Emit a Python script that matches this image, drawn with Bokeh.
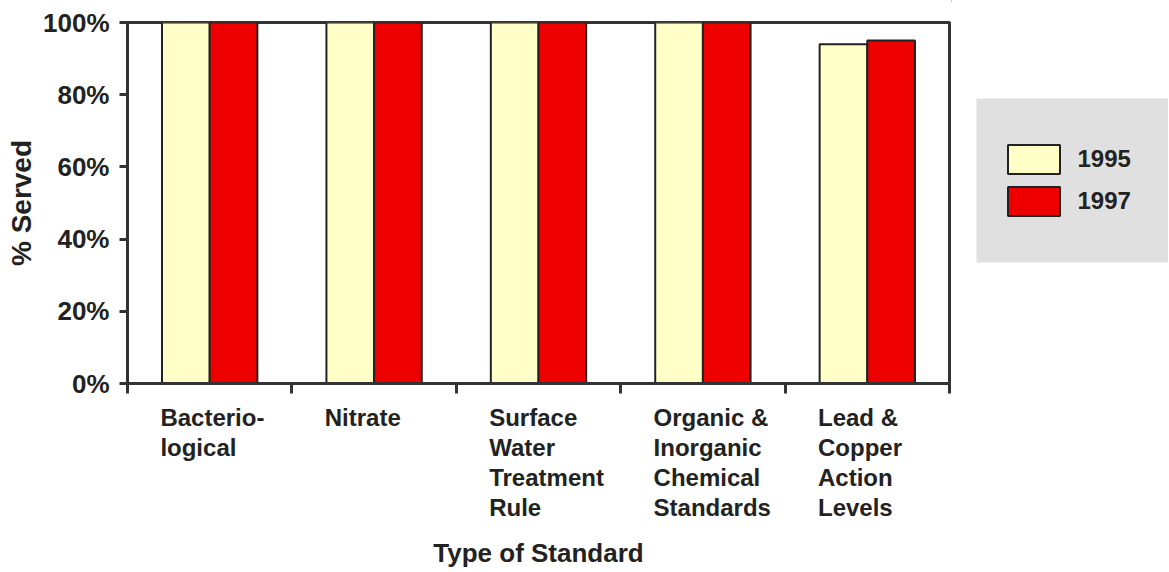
import numpy as np
from bokeh.plotting import figure
from bokeh.models import (ColumnDataSource, Range1d, FixedTicker, PrintfTickFormatter,
                          Legend, LegendItem)
from bokeh.layouts import row, column
from bokeh.core.properties import value
from bokeh.transform import dodge
from bokeh.embed import file_html
from bokeh.resources import INLINE

categories = ["Bacterio-\nlogical", "Nitrate", "Surface\nWater\nTreatment\nRule",
              "Organic &\nInorganic\nChemical\nStandards", "Lead &\nCopper\nAction\nLevels"]
served_1995 = [100, 100, 100, 100, 94]
served_1997 = [100, 100, 100, 100, 95]
years = ["1995", "1997"]
y_ticks = [0, 20, 40, 60, 80, 100]
x_title = "Type of Standard"
y_title = "% Served"

FONT = "Liberation Sans"
TXT = "#222222"
LINE = "#333333"
YELLOW = "#ffffc8"
RED = "#ee0000"
OUTLINE = "#222222"

idx = np.arange(len(categories))
src = ColumnDataSource(dict(x=idx + 0.5, y95=served_1995, y97=served_1997))

# ---------------- main chart ----------------
P_W, P_H = 951, 399
p = figure(width=P_W, height=P_H, output_backend="svg", toolbar_location=None,
           x_range=Range1d(0, len(categories)), y_range=Range1d(0, 100),
           min_border_left=127, min_border_right=2, min_border_top=22,
           min_border_bottom=16)
p.grid.visible = False
p.outline_line_color = LINE
p.outline_line_width = 3
p.background_fill_color = "white"
p.border_fill_color = "white"

p.vbar(x=dodge("x", -0.145), top="y95", width=0.29, source=src,
       fill_color=YELLOW, line_color=OUTLINE, line_width=2)
p.vbar(x=dodge("x", 0.145), top="y97", width=0.29, source=src,
       fill_color=RED, line_color=OUTLINE, line_width=2)

ya = p.yaxis[0]
ya.ticker = FixedTicker(ticks=y_ticks)
ya.formatter = PrintfTickFormatter(format="%d%%")
ya.axis_line_color = LINE
ya.axis_line_width = 3
ya.major_tick_line_color = LINE
ya.major_tick_line_width = 3
ya.major_tick_out = 8
ya.major_tick_in = 0
ya.minor_tick_line_color = None
ya.major_label_text_font = FONT
ya.major_label_text_font_style = "bold"
ya.major_label_text_font_size = "26px"
ya.major_label_text_color = TXT
ya.major_label_standoff = 10
ya.axis_label = y_title
ya.axis_label_text_font = FONT
ya.axis_label_text_font_style = "bold"
ya.axis_label_text_font_size = "28px"
ya.axis_label_text_color = TXT
ya.axis_label_standoff = 3

xa = p.xaxis[0]
xa.ticker = FixedTicker(ticks=[], minor_ticks=[float(i) for i in range(len(categories) + 1)])
xa.major_tick_out = 0
xa.major_tick_in = 0
xa.major_label_standoff = 0
xa.minor_tick_out = 10
xa.minor_tick_in = 0
xa.minor_tick_line_color = LINE
xa.minor_tick_line_width = 3
xa.axis_line_color = LINE
xa.axis_line_width = 3

# ---------------- category labels + x title (below) ----------------
Q_H = 172
q = figure(width=P_W, height=Q_H, output_backend="svg", toolbar_location=None,
           x_range=p.x_range, y_range=Range1d(Q_H, 0),
           min_border=0, min_border_left=127, min_border_right=2)
q.axis.visible = False
q.grid.visible = False
q.outline_line_color = None
q.background_fill_color = "white"
q.border_fill_color = "white"

lab_src = ColumnDataSource(dict(x=idx + 0.2, y=[4] * len(categories), text=categories))
q.text(x="x", y="y", text="text", source=lab_src, text_align="left",
       text_baseline="top", text_font=value(FONT), text_font_style="bold",
       text_font_size="24px", text_color=TXT, text_line_height=1.12)
q.text(x=[len(categories) / 2], y=[138], text=[x_title], text_align="center",
       text_baseline="top", text_font=value(FONT), text_font_style="bold",
       text_font_size="26px", text_color=TXT)

# ---------------- legend panel ----------------
L_W, L_H = 1168 - P_W, P_H + Q_H
L = figure(width=L_W, height=L_H, output_backend="svg", toolbar_location=None,
           x_range=Range1d(P_W, P_W + L_W), y_range=Range1d(L_H, 0), min_border=0)
L.axis.visible = False
L.grid.visible = False
L.outline_line_color = None
L.background_fill_color = "white"
L.border_fill_color = "white"
L.quad(left=[976], right=[1169], top=[98], bottom=[262], fill_color="#e0e0e0",
       line_color=None)
# legend proxies (single off-view point so the swatches are drawn)
k1 = L.vbar(x=[0], top=[0], width=1, fill_color=YELLOW, line_color=OUTLINE, line_width=2)
k2 = L.vbar(x=[0], top=[0], width=1, fill_color=RED, line_color=OUTLINE, line_width=2)
legend = Legend(items=[LegendItem(label=years[0], renderers=[k1]),
                       LegendItem(label=years[1], renderers=[k2])],
                location=(49.5, L_H - 219.4), orientation="vertical",
                background_fill_alpha=0.0, border_line_color=None,
                padding=0, spacing=6, margin=0,
                glyph_width=65, glyph_height=36, label_height=36,
                label_standoff=12,
                label_text_font=FONT, label_text_font_style="bold",
                label_text_font_size="24px", label_text_color=TXT)
L.add_layout(legend, "center")

layout = row(column(p, q, spacing=0), L, spacing=0)
open("out.html", "w").write(file_html(layout, INLINE))
